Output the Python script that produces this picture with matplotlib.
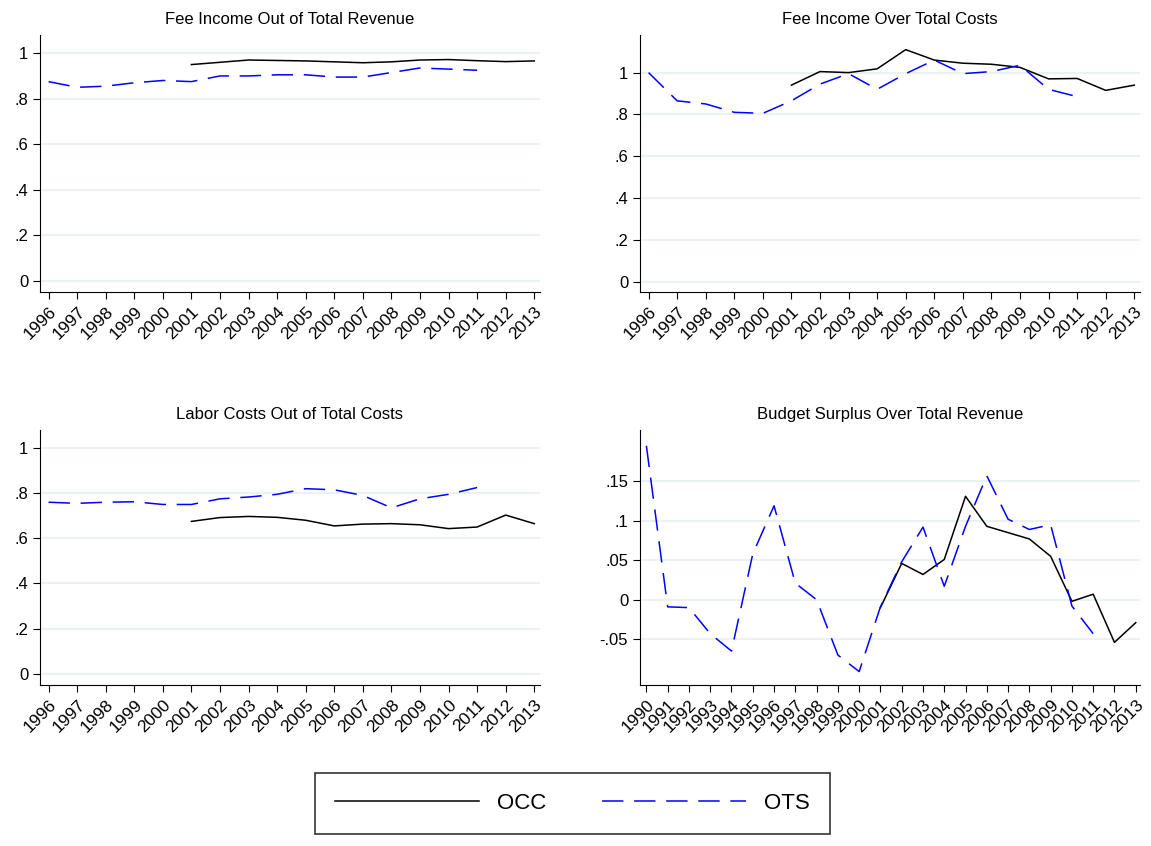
import matplotlib
matplotlib.use("Agg")
import matplotlib.pyplot as plt
from matplotlib.lines import Line2D

plt.rcParams['font.family'] = ['Liberation Sans', 'DejaVu Sans']

occ_years = list(range(2001, 2014))
ots_years = list(range(1996, 2012))
ots_years_b = list(range(1990, 2012))

fee_rev_occ = [.95, .96, .97, .968, .966, .962, .958, .962, .97, .972, .967, .963, .966]
fee_rev_ots = [.875, .85, .855, .87, .88, .875, .9, .9, .905, .905, .895, .895, .915, .935, .93, .925]
fee_cost_occ = [.94, 1.005, 1.0, 1.018, 1.11, 1.06, 1.045, 1.04, 1.025, .97, .972, .915, .94]
fee_cost_ots = [1.0, .865, .85, .81, .805, .865, .945, .995, .92, .995, 1.06, .995, 1.005, 1.035, .92, .885]
labor_occ = [.675, .692, .697, .693, .68, .655, .663, .665, .66, .643, .65, .703, .665]
labor_ots = [.76, .755, .76, .762, .75, .75, .775, .783, .795, .82, .815, .79, .735, .775, .795, .825]
surplus_occ = [-.01, .046, .032, .051, .131, .093, .085, .077, .055, -.002, .007, -.054, -.029]
surplus_ots = [.195, -.009, -.01, -.043, -.065, .058, .119, .021, .0, -.07, -.091, -.009, .048, .092,
               .017, .093, .157, .102, .089, .095, -.008, -.043]

yt_main = [0, .2, .4, .6, .8, 1]
yl_main = ['0', '.2', '.4', '.6', '.8', '1']
yt_b = [-.05, 0, .05, .1, .15]
yl_b = ['-.05', '0', '.05', '.1', '.15']

fig = plt.figure(figsize=(11.51, 8.46), dpi=100)
W, H = 1151, 846
def mkax(l, r, t, b):
    return fig.add_axes([l / W, 1 - b / H, (r - l) / W, (b - t) / H])

DASH = (14, 7)
panels = [
    (mkax(40, 540, 35, 292), "Fee Income Out of Total Revenue", fee_rev_occ, fee_rev_ots, ots_years, yt_main, yl_main, (-0.05, 1.08)),
    (mkax(640, 1140, 35, 292), "Fee Income Over Total Costs", fee_cost_occ, fee_cost_ots, ots_years, yt_main, yl_main, (-0.05, 1.18)),
    (mkax(40, 540, 430, 685), "Labor Costs Out of Total Costs", labor_occ, labor_ots, ots_years, yt_main, yl_main, (-0.05, 1.08)),
    (mkax(640, 1140, 430, 685), "Budget Surplus Over Total Revenue", surplus_occ, surplus_ots, ots_years_b, yt_b, yl_b, (-0.108, 0.215)),
]

for ax, title, occ, ots, oyears, yt, yl, ylim in panels:
    ax.plot(occ_years, occ, color='black', lw=1.1, zorder=3)
    ax.plot(oyears, ots, color='blue', lw=1.1, dashes=DASH, zorder=3)
    years = list(range(oyears[0], 2014))
    ax.set_xticks(years)
    ax.set_xticklabels([str(y) for y in years], rotation=45, fontsize=12.5, ha='right', rotation_mode='anchor')
    ax.set_xlim(years[0] - 0.3, 2013.2)
    ax.set_yticks(yt)
    ax.set_yticklabels(yl, fontsize=12)
    ax.set_ylim(*ylim)
    ax.grid(axis='y', color='#eaf2f3', lw=1.5, zorder=0)
    ax.set_axisbelow(True)
    for s in ['top', 'right']:
        ax.spines[s].set_visible(False)
    ax.set_title(title, fontsize=12, pad=8)
    ax.tick_params(length=5)

handles = [Line2D([], [], color='black', lw=1.1),
           Line2D([], [], color='blue', lw=1.1, dashes=DASH)]
leg = fig.legend(handles, ['OCC', 'OTS'], loc='center', bbox_to_anchor=(572 / W, 1 - 803 / H),
                 ncol=2, fontsize=16, handlelength=6.5, frameon=True, fancybox=False,
                 edgecolor='black', columnspacing=2.5, borderpad=0.9)
leg.get_frame().set_linewidth(1.2)

fig.savefig("out.png", dpi=100, facecolor='white')
